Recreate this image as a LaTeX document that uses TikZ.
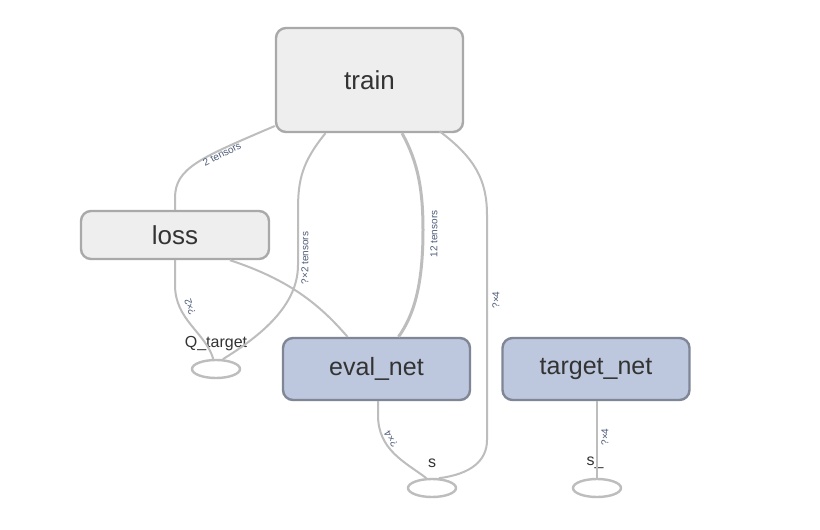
\documentclass[tikz,border=0pt]{standalone}
\usepackage{fontspec}
\setmainfont{Liberation Sans}
\definecolor{nodefill}{HTML}{EEEEEE}
\definecolor{nodeline}{HTML}{A9A9A9}
\definecolor{blufill}{HTML}{BDC7DD}
\definecolor{bluline}{HTML}{7F8797}
\definecolor{edgecol}{HTML}{BDBDBD}
\definecolor{txtcol}{HTML}{333333}
\definecolor{lblcol}{HTML}{4E5C7A}
\tikzset{
  grpbox/.style={draw=nodeline, fill=nodefill, line width=2.4pt, rounded corners=10pt, text=txtcol, font=\fontsize{26}{30}\selectfont, inner sep=0pt},
  netbox/.style={draw=bluline, fill=blufill, line width=2.4pt, rounded corners=10pt, text=txtcol, font=\fontsize{25}{30}\selectfont, inner sep=0pt, minimum width=187pt, minimum height=62pt},
  ph/.style={draw=edgecol, line width=2.4pt, ellipse, minimum width=48pt, minimum height=18pt, inner sep=0pt},
  phlbl/.style={text=txtcol, font=\fontsize{16}{18}\selectfont},
  edge/.style={draw=edgecol, line width=2pt},
  elbl/.style={text=lblcol, font=\fontsize{10}{11}\selectfont, inner sep=0pt}
}
\usetikzlibrary{shapes.geometric}
\begin{document}
\begin{tikzpicture}[x=1pt,y=-1pt]
\useasboundingbox[fill=white] (0,0) rectangle (820,530);
% nodes
\node[grpbox, minimum width=187pt, minimum height=104pt] (train) at (369.5,80) {train};
\node[grpbox, minimum width=188pt, minimum height=48pt] (loss) at (175,235) {loss};
\node[netbox] (eval) at (376.5,369) {\raisebox{-2pt}{eval\_net}};
\node[netbox] (target) at (596,369) {\raisebox{-2pt}{target\_net}};
\node[ph] (q) at (216,369) {};
\node[ph] (s) at (432,488) {};
\node[ph] (s2) at (597,488) {};
\node[phlbl] (ql) at (216,344) {Q\_target};
\node[phlbl] (sl) at (432,463) {s};
\node[phlbl] (s2l) at (595,463) {s\_};
% edges
\draw[edge] ([yshift=-46pt]train.west) .. controls (200,158) and (175,168) .. (175,198) -- (loss.north);
\node[elbl, rotate=27] (l1) at (222,154) {2 tensors};
\draw[edge] ([xshift=-44pt]train.south) .. controls (302,162) and (298,180) .. (298,210) -- (298,265) .. controls (298,305) and (262,335) .. (q.55);
\node[elbl, rotate=90] (l2) at (305,258) {?×2 tensors};
\draw[edge, line width=3pt] ([xshift=32.5pt]train.south) .. controls (418,162) and (423,190) .. (423,230) .. controls (423,285) and (414,315) .. ([xshift=22pt]eval.north);
\node[elbl, rotate=90] (l3) at (434,234) {12 tensors};
\draw[edge] ([xshift=70pt,yshift=2pt]train.south) .. controls (475,158) and (487,180) .. (487,215) -- (487,440) .. controls (487,460) and (472,474) .. (s.55);
\node[elbl, rotate=90] (l4) at (496,300) {?×4};
\draw[edge] ([xshift=1.5pt]eval.south) -- (378,415) .. controls (378,450) and (405,462) .. (s.120);
\node[elbl, rotate=122] (l5) at (391,439) {?×4};
\draw[edge] (loss.south) -- (175,285) .. controls (175,320) and (205,332) .. (q.105);
\node[elbl, rotate=108] (l6) at (190,307) {?×2};
\draw[edge] ([xshift=55pt]loss.south) .. controls (290,280) and (320,305) .. ([xshift=-29pt]eval.north);
\draw[edge] ([xshift=1pt]target.south) -- (s2.north);
\node[elbl, rotate=90] (l7) at (605,437) {?×4};
\end{tikzpicture}
\end{document}
